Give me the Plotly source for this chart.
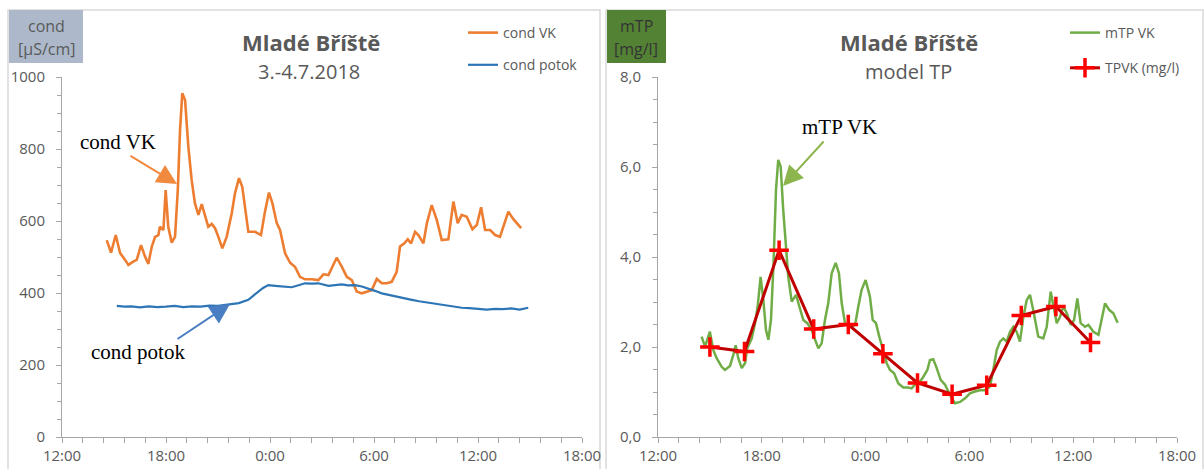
import pandas as pd
import plotly.graph_objects as go

# ---------------- data (hours after 2018-07-03 12:00) ----------------
cond_vk_h = [2.58, 2.83, 3.10, 3.35, 3.64, 3.83, 4.11, 4.31, 4.56, 4.79, 4.98, 5.18, 5.37, 5.56,
             5.65, 5.85, 5.98, 6.13, 6.33, 6.52, 6.68, 6.81, 6.94, 7.10, 7.29, 7.48, 7.67, 7.87,
             8.06, 8.25, 8.44, 8.64, 8.83, 9.02, 9.25, 9.50, 9.79, 9.98, 10.21, 10.40, 10.56,
             10.75, 11.14, 11.48, 11.71, 11.94, 12.14, 12.39, 12.58, 12.87, 13.16, 13.44, 13.73,
             14.02, 14.41, 14.79, 15.08, 15.37, 15.60, 15.85, 16.14, 16.43, 16.72, 17.00, 17.29,
             17.58, 17.87, 18.16, 18.45, 18.74, 19.02, 19.31, 19.50, 19.75, 19.95, 20.14, 20.37,
             20.56, 20.85, 21.05, 21.33, 21.62, 21.91, 22.29, 22.58, 22.83, 23.06, 23.35, 23.68,
             23.93, 24.18, 24.41, 24.70, 24.99, 25.27, 25.75, 26.04, 26.49]
cond_vk = [547, 512, 561, 511, 492, 478, 487, 492, 533, 501, 481, 529, 556, 561,
           584, 575, 686, 584, 540, 556, 686, 853, 955, 936, 806, 714, 649, 617,
           647, 612, 584, 592, 580, 556, 524, 556, 621, 677, 719, 695, 631,
           570, 570, 561, 626, 679, 649, 594, 575, 510, 484, 473, 445,
           438, 438, 436, 452, 450, 473, 498, 473, 445, 436, 404, 399,
           404, 408, 439, 427, 427, 431, 459, 529, 538, 549, 538, 570,
           561, 538, 594, 644, 603, 547, 549, 654, 594, 617, 612, 577,
           589, 638, 575, 575, 561, 556, 626, 605, 580]

cond_potok_h = [3.16, 3.6, 4.0, 4.5, 5.0, 5.5, 6.0, 6.5, 7.0, 7.5, 8.0, 8.5, 9.0, 9.6, 10.2,
                10.75, 11.0, 11.33, 11.6, 11.9, 12.3, 12.68, 13.25, 13.6, 14.02, 14.4, 14.79,
                15.37, 15.8, 16.14, 16.5, 16.9, 17.3, 17.67, 18.05, 18.45, 18.8, 19.22, 19.7,
                20.18, 20.6, 21.14, 21.7, 22.29, 22.7, 23.06, 23.5, 24.0, 24.5, 24.99, 25.4,
                25.9, 26.4, 26.9]
cond_potok = [364, 362, 363, 360, 363, 361, 362, 364, 361, 363, 362, 365, 364, 367, 372,
              381, 392, 404, 414, 422, 420, 419, 416, 421, 427, 426, 427,
              420, 423, 424, 421, 422, 418, 413, 406, 399, 395, 390, 385,
              381, 377, 373, 368, 364, 361, 359, 358, 357, 354, 356, 355,
              357, 354, 359]

mtp_vk_h = [2.52, 2.72, 3.00, 3.20, 3.39, 3.68, 3.87, 4.16, 4.35, 4.49, 4.64, 4.84, 5.03, 5.16,
            5.42, 5.61, 5.76, 5.93, 6.09, 6.24, 6.38, 6.53, 6.67, 6.82, 6.95, 7.09, 7.24, 7.40,
            7.53, 7.73, 7.98, 8.17, 8.40, 8.63, 8.88, 9.08, 9.27, 9.46, 9.65, 9.84, 10.04, 10.27,
            10.46, 10.62, 10.81, 11.10, 11.39, 11.58, 11.77, 12.00, 12.25, 12.41, 12.60, 12.79,
            12.99, 13.22, 13.41, 13.64, 13.89, 14.18, 14.47, 14.66, 14.91, 15.14, 15.34, 15.57,
            15.72, 15.91, 16.11, 16.34, 16.59, 16.78, 16.98, 17.17, 17.46, 17.75, 18.03, 18.32,
            18.61, 18.90, 19.19, 19.38, 19.58, 19.77, 19.96, 20.15, 20.35, 20.54, 20.73, 20.92,
            21.12, 21.31, 21.50, 21.69, 21.98, 22.27, 22.47, 22.70, 22.85, 23.05, 23.24, 23.43,
            23.63, 23.86, 24.05, 24.24, 24.43, 24.68, 24.88, 25.17, 25.46, 25.66, 25.84, 26.09,
            26.32, 26.57]
mtp_vk = [2.23, 2.01, 2.34, 1.93, 1.75, 1.56, 1.49, 1.58, 1.82, 2.04, 1.75, 1.53, 1.64, 1.97,
          2.19, 2.53, 2.90, 3.56, 3.04, 2.38, 2.16, 2.60, 3.78, 5.49, 6.16, 6.01, 5.04, 4.16,
          3.56, 3.01, 3.16, 2.90, 2.60, 2.53, 2.38, 2.16, 1.97, 2.08, 2.60, 2.97, 3.64, 3.87,
          3.64, 2.97, 2.53, 2.45, 2.49, 2.90, 3.27, 3.49, 3.12, 2.60, 2.53, 2.23,
          1.93, 1.64, 1.49, 1.42, 1.19, 1.10, 1.10, 1.08, 1.19, 1.23, 1.34, 1.49,
          1.71, 1.73, 1.53, 1.27, 1.16, 1.01, 0.86, 0.75, 0.78, 0.86, 0.97, 1.01,
          1.04, 1.04, 1.12, 1.49, 1.93, 2.12, 2.19, 2.12, 2.34, 2.45, 2.34, 2.12,
          2.67, 3.04, 3.16, 2.82, 2.23, 2.19, 2.45, 3.23, 2.90, 2.53, 2.67, 2.90,
          2.75, 2.49, 2.60, 3.08, 2.53, 2.45, 2.49, 2.34, 2.27, 2.64, 2.97, 2.82,
          2.75, 2.54]

tpvk_h = [3, 5, 7, 9, 11, 13, 15, 17, 19, 21, 23, 25]
tpvk = [2.0, 1.9, 4.15, 2.4, 2.5, 1.85, 1.2, 0.95, 1.15, 2.7, 2.9, 2.1]

start = pd.Timestamp("2018-07-03 12:00")
x_end = pd.Timestamp("2018-07-04 18:00")


def to_time(hours):
    return [start + pd.Timedelta(hours=h) for h in hours]


W, H = 1204, 469


def X(px):
    return px / W


def Y(py):
    return 1 - py / H


GREY = "#595959"
AXIS = "#A6A6A6"
FONT = "Open Sans"

fig = go.Figure()
fig.add_trace(go.Scatter(x=to_time(cond_vk_h), y=cond_vk, name="cond VK", mode="lines",
                         line=dict(color="#ED7D31", width=2.6), xaxis="x", yaxis="y",
                         legend="legend", legendgroup="a"))
fig.add_trace(go.Scatter(x=to_time(cond_potok_h), y=cond_potok, name="cond potok", mode="lines",
                         line=dict(color="#2E75B6", width=2.2), xaxis="x", yaxis="y",
                         legend="legend", legendgroup="b"))
fig.add_trace(go.Scatter(x=to_time(mtp_vk_h), y=mtp_vk, name="mTP VK", mode="lines",
                         line=dict(color="#70AD47", width=2.5), xaxis="x2", yaxis="y2",
                         legend="legend2", legendgroup="c"))
fig.add_trace(go.Scatter(x=to_time(tpvk_h), y=tpvk, name="TPVK (mg/l)", mode="lines+markers",
                         line=dict(color="#C00000", width=3),
                         marker=dict(symbol="cross-thin", size=14,
                                     line=dict(color="#FF0000", width=3.5)),
                         xaxis="x2", yaxis="y2", legend="legend2", legendgroup="d"))

xcommon = dict(type="date", range=[start, x_end], tickformat="%-H:%M", dtick=6 * 3600 * 1000,
               tick0="2018-07-03 00:00", ticks="outside", ticklen=5, tickcolor=AXIS,
               showline=True, linecolor=AXIS, linewidth=1, showgrid=False, zeroline=False,
               tickfont=dict(family=FONT, size=15, color=GREY), ticklabelstandoff=0,
               minor=dict(dtick=72 * 60 * 1000, tick0="2018-07-03 00:00", ticks="outside",
                          ticklen=5, tickcolor=AXIS, showgrid=False),
               fixedrange=True, automargin=False)
ycommon = dict(ticks="outside", ticklen=5, tickcolor=AXIS, showline=True, linecolor=AXIS,
               linewidth=1, showgrid=False, zeroline=False,
               tickfont=dict(family=FONT, size=15, color=GREY), ticklabelstandoff=8,
               automargin=False, domain=[Y(437), Y(77)], fixedrange=True)

fig.update_layout(
    width=W, height=H, autosize=False,
    margin=dict(l=0, r=0, t=0, b=0, pad=0),
    paper_bgcolor="white", plot_bgcolor="white",
    separators=", ",
    font=dict(family=FONT, color=GREY),
    xaxis=dict(**xcommon, domain=[X(62), X(582)], anchor="y"),
    yaxis=dict(**ycommon, range=[0, 1000], dtick=200, anchor="x",
               minor=dict(dtick=50, ticks="outside", ticklen=4, tickcolor=AXIS, showgrid=False)),
    xaxis2=dict(**xcommon, domain=[X(658), X(1177)], anchor="y2"),
    yaxis2=dict(**ycommon, range=[0, 8], dtick=2, tickformat=".1f", anchor="x2",
                minor=dict(dtick=0.5, ticks="outside", ticklen=4, tickcolor=AXIS, showgrid=False)),
    legend=dict(x=X(463), y=Y(17), xanchor="left", yanchor="top", bgcolor="rgba(0,0,0,0)",
                font=dict(family=FONT, size=14, color=GREY), tracegroupgap=11, itemwidth=30),
    legend2=dict(x=X(1065), y=Y(17), xanchor="left", yanchor="top", bgcolor="rgba(0,0,0,0)",
                 font=dict(family=FONT, size=14, color=GREY), tracegroupgap=14, itemwidth=30),
    showlegend=True,
)

shapes = [
    # panel borders
    dict(type="rect", xref="paper", yref="paper", x0=X(8), x1=X(600), y0=Y(475), y1=Y(10),
         line=dict(color="#D9D9D9", width=1.5), layer="below"),
    dict(type="rect", xref="paper", yref="paper", x0=X(606), x1=X(1203), y0=Y(475), y1=Y(10),
         line=dict(color="#D9D9D9", width=1.5), layer="below"),
    # unit boxes
    dict(type="rect", xref="paper", yref="paper", x0=X(9), x1=X(83), y0=Y(63), y1=Y(10),
         fillcolor="#ADB9CA", line=dict(width=0), layer="below"),
    dict(type="rect", xref="paper", yref="paper", x0=X(607), x1=X(666), y0=Y(63), y1=Y(10),
         fillcolor="#548235", line=dict(width=0), layer="below"),
]
fig.update_layout(shapes=shapes)


def txt(s, px, py, size, color=GREY, family=FONT, bold=False):
    return dict(text=f"<b>{s}</b>" if bold else s, x=X(px), y=Y(py), xref="paper", yref="paper",
                xanchor="center", yanchor="middle", showarrow=False,
                font=dict(family=family, size=size, color=color))


def arrow(tx, ty, sx, sy, color):
    return dict(text="", x=X(tx), y=Y(ty), xref="paper", yref="paper", ax=sx - tx, ay=sy - ty,
                showarrow=True, arrowhead=2, arrowsize=2.0, arrowwidth=2, arrowcolor=color,
                standoff=0)


SERIF = "Liberation Serif"
annotations = [
    txt("Mladé Bříště", 311, 42, 22, bold=True),
    txt("3.-4.7.2018", 309, 72, 20),
    txt("Mladé Bříště", 909, 42, 22, bold=True),
    txt("model TP", 908, 72, 20),
    txt("cond", 46, 26, 16),
    txt("[µS/cm]", 46, 49, 16),
    txt("mTP", 636, 26, 16, color="#333333"),
    txt("[mg/l]", 636, 49, 16, color="#333333"),
    txt("cond VK", 118, 142, 21, color="black", family=SERIF),
    txt("cond potok", 138, 352, 21, color="black", family=SERIF),
    txt("mTP VK", 839, 127, 21, color="black", family=SERIF),
    arrow(177, 184, 129, 155, "#F08A3E"),
    arrow(230, 304, 176, 340, "#4A7EC2"),
    arrow(783, 186, 825, 140, "#8CB54E"),
]
fig.update_layout(annotations=annotations)

fig.write_html("out.html",
               config={"displayModeBar": False, "staticPlot": True},
               post_script="document.body.style.margin='0px';"
                           "document.body.style.overflow='hidden';")
